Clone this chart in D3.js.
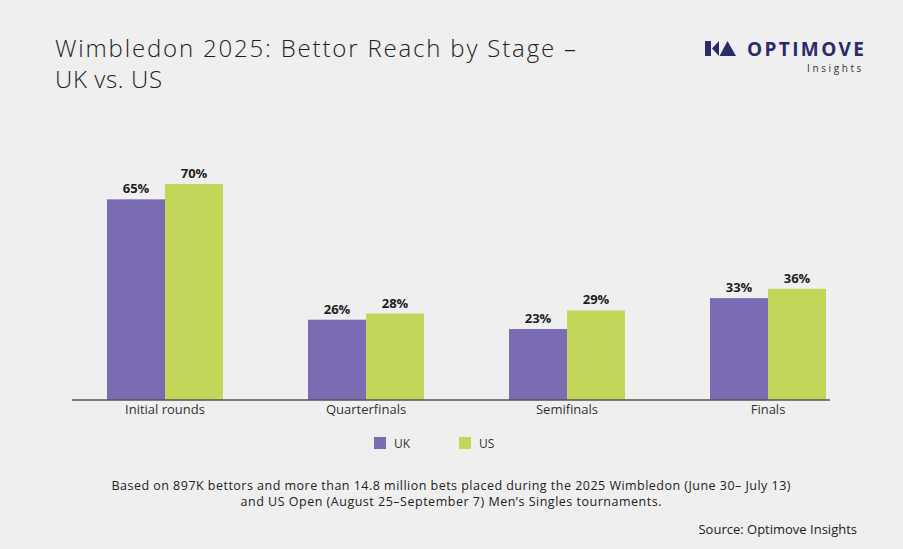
<!DOCTYPE html>
<html><head><meta charset="utf-8">
<script src="https://cdn.jsdelivr.net/npm/d3@7/dist/d3.min.js"></script>
<style>
html,body{margin:0;padding:0;background:#efefef;}
svg{display:block;}
text{font-family:"Open Sans","Noto Sans",sans-serif;}
</style></head>
<body>
<svg id="chart" width="903" height="549"></svg>
<script>
const categories = ["Initial rounds", "Quarterfinals", "Semifinals", "Finals"];
const seriesNames = ["UK", "US"];
const ukValues = [65, 26, 23, 33];
const usValues = [70, 28, 29, 36];
const colors = ["#7b6bb3", "#c3d65a"];
const titleLines = ["Wimbledon 2025: Bettor Reach by Stage \u2013", "UK vs. US"];
const noteLines = ["Based on 897K bettors and more than 14.8 million bets placed during the 2025 Wimbledon (June 30\u2013 July 13)",
                   "and US Open (August 25\u2013September 7) Men\u2019s Singles tournaments."];
const sourceText = "Source: Optimove Insights";

const svg = d3.select("#chart");
svg.append("rect").attr("width", 903).attr("height", 549).attr("fill", "#efefef");

// Title
const titleWidths = [521, 107];
titleLines.forEach((t, i) => {
  svg.append("text").attr("x", 55).attr("y", 57 + i * 30.5)
    .attr("font-size", 24).attr("font-weight", 200).attr("fill", "#1e1e1e")
    .attr("font-family", "'DejaVu Sans', sans-serif")
    .attr("textLength", titleWidths[i]).attr("lengthAdjust", "spacing")
    .text(t);
});

// Logo
const logo = svg.append("g").attr("fill", "#2c2a6b");
logo.append("rect").attr("x", 705).attr("y", 41).attr("width", 6).attr("height", 15);
logo.append("path").attr("d", "M712,48.5 L719,41 L719,56 Z");
logo.append("path").attr("d", "M727.5,41 L736,56 L719.5,56 Z");
svg.append("text").attr("x", 864).attr("y", 55.5).attr("text-anchor", "end")
  .attr("font-size", 19).attr("font-weight", 700).attr("fill", "#2c2a6b")
  .attr("font-family", "Lato, sans-serif").attr("textLength", 117)
  .text("OPTIMOVE");
svg.append("text").attr("x", 864).attr("y", 71.5).attr("text-anchor", "end")
  .attr("font-size", 10).attr("fill", "#333").attr("letter-spacing", "2.6px")
  .attr("font-family", "Lato, sans-serif")
  .text("Insights");

// Scales
const x0 = d3.scaleBand().domain(categories).range([64.5, 868.5]).paddingInner(0.423).paddingOuter(0.2115);
const x1 = d3.scaleBand().domain(seriesNames).range([0, x0.bandwidth()]);
const y = d3.scaleLinear().domain([0, 100]).range([400, 91.3]);

const data = categories.map((c, i) => ({cat: c, vals: [ukValues[i], usValues[i]]}));

const groups = svg.append("g").selectAll("g").data(data).join("g")
  .attr("transform", d => `translate(${x0(d.cat)},0)`);

groups.selectAll("rect").data(d => d.vals.map((v, j) => ({v, s: seriesNames[j], j})))
  .join("rect")
  .attr("x", d => x1(d.s)).attr("y", d => y(d.v))
  .attr("width", x1.bandwidth()).attr("height", d => y(0) - y(d.v))
  .attr("fill", d => colors[d.j]);

groups.selectAll("text.val").data(d => d.vals.map((v, j) => ({v, s: seriesNames[j], j})))
  .join("text").attr("class", "val")
  .attr("x", d => x1(d.s) + x1.bandwidth() / 2).attr("y", d => y(d.v) - 6)
  .attr("text-anchor", "middle").attr("font-size", 13).attr("font-weight", 700)
  .attr("fill", "#1e1e1e")
  .text(d => d.v + "%");

// Axis
const axis = svg.append("g").attr("transform", "translate(0,400)")
  .call(d3.axisBottom(x0).tickSize(0).tickPadding(5));
axis.select(".domain").remove();
axis.selectAll("text").attr("font-size", 13).attr("fill", "#333")
  .attr("font-family", "'Open Sans', sans-serif");
svg.append("line").attr("x1", 72).attr("x2", 830).attr("y1", 400).attr("y2", 400)
  .attr("stroke", "#555").attr("stroke-width", 1.5);

// Legend
const legendX = [374, 459];
seriesNames.forEach((s, i) => {
  svg.append("rect").attr("x", legendX[i]).attr("y", 437).attr("width", 12).attr("height", 12)
    .attr("fill", colors[i]);
  svg.append("text").attr("x", legendX[i] + 20).attr("y", 447.5)
    .attr("font-size", 12).attr("fill", "#333").text(s);
});

// Notes
const noteWidths = [679, 421];
noteLines.forEach((t, i) => {
  svg.append("text").attr("x", 451).attr("y", 490 + i * 16).attr("text-anchor", "middle")
    .attr("font-size", 12.5).attr("fill", "#222")
    .attr("font-family", "Lato, sans-serif")
    .attr("textLength", noteWidths[i]).attr("lengthAdjust", "spacing")
    .text(t);
});
svg.append("text").attr("x", 857).attr("y", 534).attr("text-anchor", "end")
  .attr("font-size", 13).attr("fill", "#222").text(sourceText);
</script>
</body></html>
